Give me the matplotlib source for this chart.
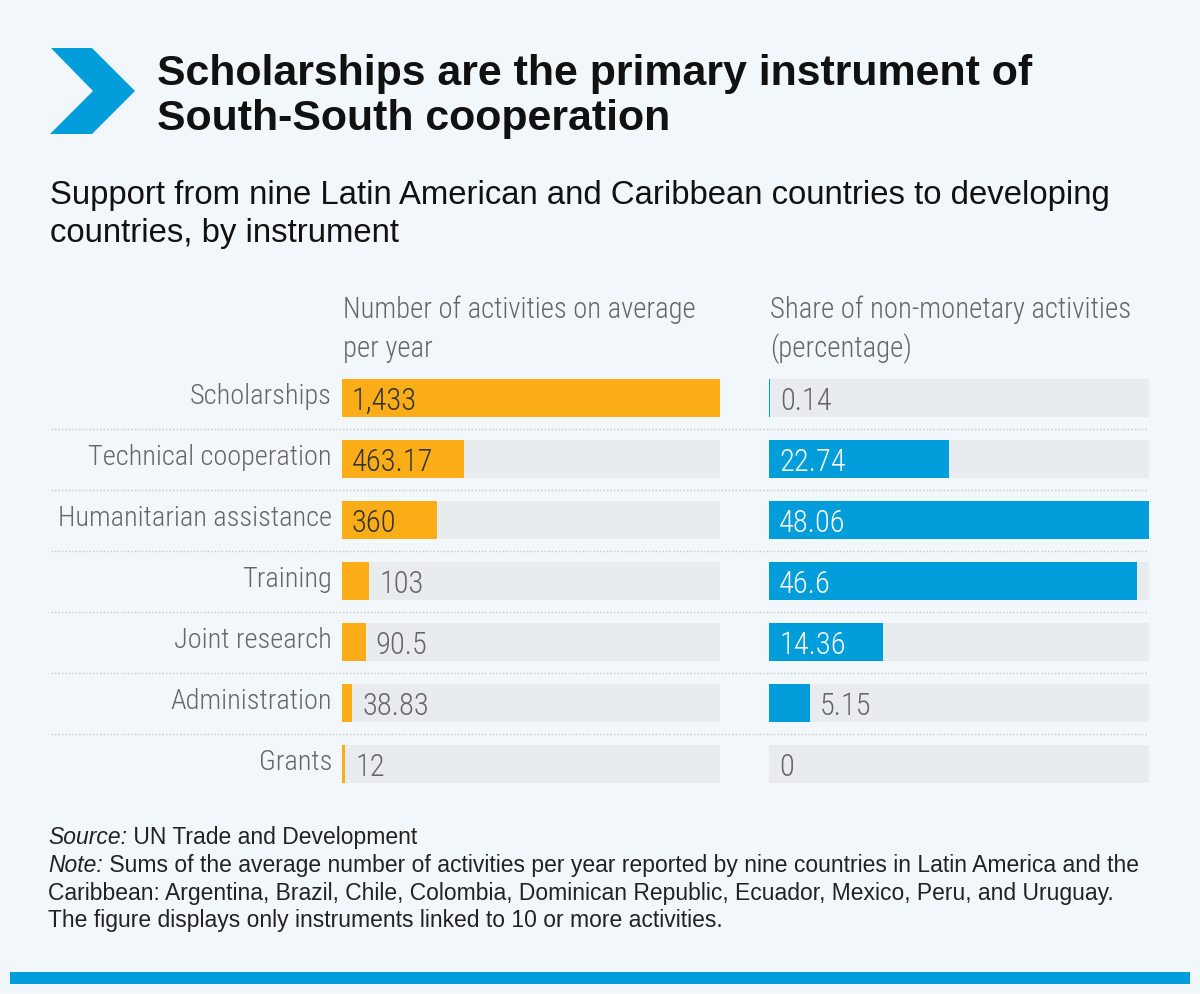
import matplotlib
matplotlib.use('Agg')
import matplotlib.pyplot as plt
from matplotlib.patches import Polygon, Rectangle

# ---------------- data ----------------
categories = ["Scholarships", "Technical cooperation", "Humanitarian assistance",
              "Training", "Joint research", "Administration", "Grants"]
activities = [1433, 463.17, 360, 103, 90.5, 38.83, 12]
activity_labels = ["1,433", "463.17", "360", "103", "90.5", "38.83", "12"]
shares = [0.14, 22.74, 48.06, 46.6, 14.36, 5.15, 0]
share_labels = ["0.14", "22.74", "48.06", "46.6", "14.36", "5.15", "0"]

title_lines = ["Scholarships are the primary instrument of", "South-South cooperation"]
subtitle_lines = ["Support from nine Latin American and Caribbean countries to developing",
                  "countries, by instrument"]
left_header = ["Number of activities on average", "per year"]
right_header = ["Share of non-monetary activities", "(percentage)"]
source_text = ("Source:", " UN Trade and Development")
note_lines = [("Note:", " Sums of the average number of activities per year reported by nine countries in Latin America and the"),
              ("", "Caribbean: Argentina, Brazil, Chile, Colombia, Dominican Republic, Ecuador, Mexico, Peru, and Uruguay."),
              ("", "The figure displays only instruments linked to 10 or more activities.")]

# ---------------- style ----------------
BG = "#F2F7FB"
ORANGE = "#FBAD18"
BLUE = "#009DDB"
TRACK = "#E8ECEF"
SEP = "#C2C7CB"
GRAY = "#666666"
DARK = "#333333"

COND = ['Roboto Condensed', 'Archivo Narrow', 'DejaVu Sans']
CW = 'light'
SANS = ['Liberation Sans', 'DejaVu Sans']

W, H = 1200, 995
fig = plt.figure(figsize=(12, 9.95), dpi=100)
fig.patch.set_facecolor(BG)


def fx(x):
    return x / W


def fy(y):
    return 1 - y / H


# background axes in pixel coordinates (decorations)
axbg = fig.add_axes([0, 0, 1, 1], zorder=0)
axbg.set_xlim(0, W)
axbg.set_ylim(H, 0)
axbg.axis('off')
axbg.add_patch(Polygon([(51, 49), (92, 49), (135, 92), (92, 135), (50, 135), (93, 92)],
                       closed=True, color=BLUE, lw=0))
axbg.add_patch(Rectangle((10, 973), 1180, 12, color=BLUE, lw=0))

ROW0, PITCH, BARH = 399, 61, 38
n = len(categories)
for i in range(n - 1):
    y = ROW0 + PITCH * (i + 0.5)
    axbg.plot([51, 1148], [y, y], ls=(0, (1, 1.5)), color=SEP, lw=1)

# ---------------- texts ----------------
for k, line in enumerate(title_lines):
    fig.text(fx(157), fy(85 + 45 * k), line, fontsize=30.9, weight='bold',
             family=SANS, color='#111111', va='baseline')
for k, line in enumerate(subtitle_lines):
    fig.text(fx(50), fy(204 + 38 * k), line, fontsize=23.65,
             family=SANS, color='#111111', va='baseline')
for k, line in enumerate(left_header):
    fig.text(fx(343), fy(318 + 39 * k), line, fontsize=20.6, weight=CW,
             family=COND, color=GRAY, va='baseline')
for k, line in enumerate(right_header):
    fig.text(fx(770), fy(318 + 39 * k), line, fontsize=20.7, weight=CW,
             family=COND, color=GRAY, va='baseline')

renderer = fig.canvas.get_renderer()


def mixed(x, ybase, ital, rest, size=16.5):
    xpos = fx(x)
    if ital:
        t = fig.text(xpos, fy(ybase), ital, fontsize=size, style='italic',
                     family=SANS, color='#222222', va='baseline')
        bb = t.get_window_extent(renderer=renderer)
        xpos = bb.x1 / W
    fig.text(xpos, fy(ybase), rest, fontsize=size, family=SANS,
             color='#222222', va='baseline')


mixed(48, 844, *source_text)
for k, (it, rest) in enumerate(note_lines):
    mixed(48, 872 + 27.7 * k, it, rest)

# ---------------- bar panels ----------------
ax_bottom = ROW0 + PITCH * (n - 0.5)
ax_h = PITCH * n


def panel(x0, width, values, labels, color, inside_color, show_cats):
    ax = fig.add_axes([fx(x0), fy(ax_bottom), width / W, ax_h / H], zorder=1)
    ax.patch.set_alpha(0)
    vmax = max(values)
    ax.set_xlim(0, vmax)
    ax.set_ylim(n - 0.5, -0.5)
    ax.axis('off')
    ys = list(range(n))
    ax.barh(ys, [vmax] * n, height=BARH / PITCH, color=TRACK, lw=0)
    ax.barh(ys, values, height=BARH / PITCH, color=color, lw=0)
    for i, (v, lab) in enumerate(zip(values, labels)):
        inside = v / vmax > 0.2
        ax.annotate(lab, xy=(0 if inside else v, i), xytext=(10, -11),
                    textcoords='offset pixels', ha='left', va='baseline',
                    fontsize=22, family=COND, weight=CW,
                    color=inside_color if inside else GRAY)
        if show_cats:
            ax.annotate(categories[i], xy=(0, i), xytext=(-10, -5),
                        textcoords='offset pixels', ha='right', va='baseline',
                        fontsize=20.4, family=COND, weight=CW, color=GRAY)
    return ax


panel(342, 378, activities, activity_labels, ORANGE, DARK, True)
panel(769, 380, shares, share_labels, BLUE, 'white', False)

fig.savefig('out.png', dpi=100, facecolor=BG)
